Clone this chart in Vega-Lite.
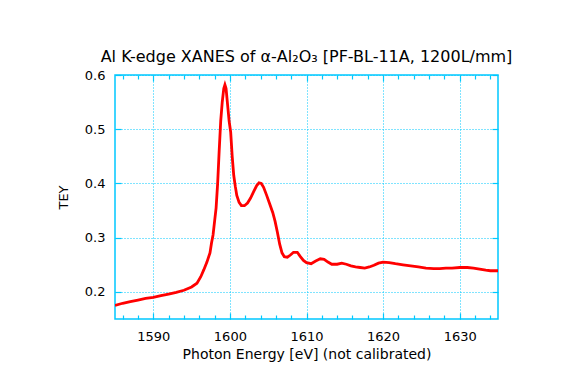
{
  "$schema": "https://vega.github.io/schema/vega-lite/v6.json",
  "autosize": {"type": "none"},
  "width": 383,
  "height": 244,
  "padding": {"left": 115, "top": 75, "right": 77, "bottom": 49},
  "background": "white",
  "title": {"text": "Al K-edge XANES of α-Al₂O₃ [PF-BL-11A, 1200L/mm]", "font": "DejaVu Sans", "fontSize": 16, "fontWeight": "normal", "color": "black", "anchor": "middle", "frame": "group", "offset": 4},
  "config": {
    "view": {"stroke": "#00c8ff", "strokeWidth": 1.5},
    "axis": {"domain": false, "labelFont": "DejaVu Sans", "labelFontSize": 13, "labelColor": "black", "titleFont": "DejaVu Sans", "titleFontSize": 13, "titleFontWeight": "normal", "titleColor": "black", "tickColor": "#00c8ff", "tickWidth": 1.2, "gridColor": "#00c8ff", "gridDash": [1, 2], "gridWidth": 1, "gridOpacity": 1}
  },
  "data": {"values": [
    {"e": 1585.0, "tey": 0.175}, {"e": 1586.0, "tey": 0.179}, {"e": 1587.0, "tey": 0.182}, {"e": 1588.0, "tey": 0.185},
    {"e": 1589.0, "tey": 0.188}, {"e": 1590.0, "tey": 0.190}, {"e": 1591.0, "tey": 0.193}, {"e": 1592.0, "tey": 0.196},
    {"e": 1593.0, "tey": 0.199}, {"e": 1594.0, "tey": 0.203}, {"e": 1595.0, "tey": 0.209}, {"e": 1595.7, "tey": 0.216},
    {"e": 1596.2, "tey": 0.228}, {"e": 1596.6, "tey": 0.241}, {"e": 1597.0, "tey": 0.255}, {"e": 1597.4, "tey": 0.272},
    {"e": 1597.6, "tey": 0.29}, {"e": 1597.8, "tey": 0.305}, {"e": 1598.0, "tey": 0.33}, {"e": 1598.2, "tey": 0.355},
    {"e": 1598.4, "tey": 0.40}, {"e": 1598.6, "tey": 0.46}, {"e": 1598.8, "tey": 0.515}, {"e": 1599.0, "tey": 0.55},
    {"e": 1599.2, "tey": 0.575}, {"e": 1599.35, "tey": 0.582}, {"e": 1599.5, "tey": 0.575}, {"e": 1599.7, "tey": 0.545},
    {"e": 1599.9, "tey": 0.515}, {"e": 1600.1, "tey": 0.495}, {"e": 1600.3, "tey": 0.45}, {"e": 1600.5, "tey": 0.415},
    {"e": 1600.7, "tey": 0.395}, {"e": 1600.9, "tey": 0.378}, {"e": 1601.2, "tey": 0.365}, {"e": 1601.5, "tey": 0.359},
    {"e": 1601.9, "tey": 0.359}, {"e": 1602.3, "tey": 0.364}, {"e": 1602.7, "tey": 0.373}, {"e": 1603.1, "tey": 0.385},
    {"e": 1603.5, "tey": 0.396}, {"e": 1603.8, "tey": 0.401}, {"e": 1604.1, "tey": 0.400}, {"e": 1604.4, "tey": 0.393},
    {"e": 1604.8, "tey": 0.378}, {"e": 1605.2, "tey": 0.362}, {"e": 1605.6, "tey": 0.346}, {"e": 1605.9, "tey": 0.33},
    {"e": 1606.2, "tey": 0.31}, {"e": 1606.5, "tey": 0.288}, {"e": 1606.8, "tey": 0.272}, {"e": 1607.1, "tey": 0.265},
    {"e": 1607.5, "tey": 0.264}, {"e": 1607.9, "tey": 0.268}, {"e": 1608.3, "tey": 0.273}, {"e": 1608.8, "tey": 0.273},
    {"e": 1609.2, "tey": 0.265}, {"e": 1609.6, "tey": 0.258}, {"e": 1610.0, "tey": 0.254}, {"e": 1610.6, "tey": 0.252},
    {"e": 1611.2, "tey": 0.257}, {"e": 1611.8, "tey": 0.261}, {"e": 1612.3, "tey": 0.260}, {"e": 1612.8, "tey": 0.255},
    {"e": 1613.3, "tey": 0.251}, {"e": 1614.0, "tey": 0.251}, {"e": 1614.6, "tey": 0.253}, {"e": 1615.2, "tey": 0.251},
    {"e": 1615.8, "tey": 0.248}, {"e": 1616.4, "tey": 0.246}, {"e": 1617.0, "tey": 0.245}, {"e": 1617.6, "tey": 0.244},
    {"e": 1618.2, "tey": 0.246}, {"e": 1618.8, "tey": 0.249}, {"e": 1619.4, "tey": 0.253}, {"e": 1620.0, "tey": 0.255},
    {"e": 1620.8, "tey": 0.254}, {"e": 1621.6, "tey": 0.252}, {"e": 1622.6, "tey": 0.250}, {"e": 1623.6, "tey": 0.248},
    {"e": 1624.6, "tey": 0.246}, {"e": 1625.6, "tey": 0.244}, {"e": 1626.6, "tey": 0.243}, {"e": 1627.4, "tey": 0.243},
    {"e": 1628.2, "tey": 0.244}, {"e": 1629.0, "tey": 0.244}, {"e": 1630.0, "tey": 0.245}, {"e": 1631.0, "tey": 0.245},
    {"e": 1631.8, "tey": 0.244}, {"e": 1632.6, "tey": 0.242}, {"e": 1633.4, "tey": 0.240}, {"e": 1634.0, "tey": 0.239},
    {"e": 1635.0, "tey": 0.239}
  ]},
  "resolve": {"axis": {"x": "independent", "y": "independent"}},
  "layer": [
    {
      "mark": {"type": "line", "color": "red", "strokeWidth": 2.8, "clip": true},
      "encoding": {
        "x": {"field": "e", "type": "quantitative", "scale": {"domain": [1585, 1635], "nice": false, "zero": false},
              "axis": {"orient": "bottom", "values": [1590, 1600, 1610, 1620, 1630], "format": "d", "ticks": false, "tickSize": 0, "labelPadding": 11, "grid": true, "title": "Photon Energy [eV] (not calibrated)", "titleFontSize": 14, "titlePadding": 4}},
        "y": {"field": "tey", "type": "quantitative", "scale": {"domain": [0.15, 0.6], "nice": false, "zero": false},
              "axis": {"orient": "left", "values": [0.2, 0.3, 0.4, 0.5, 0.6], "format": ".1f", "ticks": false, "tickSize": 0, "labelPadding": 10, "grid": true, "title": "TEY", "titlePadding": 14}}
      }
    },
    {
      "mark": {"type": "line", "opacity": 0},
      "encoding": {
        "x": {"field": "e", "type": "quantitative", "scale": {"domain": [1585, 1635], "nice": false, "zero": false},
              "axis": {"orient": "bottom", "offset": -6, "values": [1590, 1600, 1610, 1620, 1630], "tickSize": 6, "labels": false, "grid": false, "title": null}},
        "y": {"field": "tey", "type": "quantitative", "scale": {"domain": [0.15, 0.6], "nice": false, "zero": false},
              "axis": {"orient": "left", "offset": -6, "values": [0.2, 0.3, 0.4, 0.5, 0.6], "tickSize": 6, "labels": false, "grid": false, "title": null}}
      }
    },
    {
      "mark": {"type": "line", "opacity": 0},
      "encoding": {
        "x": {"field": "e", "type": "quantitative", "scale": {"domain": [1585, 1635], "nice": false, "zero": false},
              "axis": {"orient": "bottom", "offset": -4, "values": [1586, 1588, 1592, 1594, 1596, 1598, 1602, 1604, 1606, 1608, 1612, 1614, 1616, 1618, 1622, 1624, 1626, 1628, 1632, 1634], "tickSize": 4, "labels": false, "grid": false, "title": null}},
        "y": {"field": "tey", "type": "quantitative", "scale": {"domain": [0.15, 0.6], "nice": false, "zero": false},
              "axis": {"orient": "right", "offset": -6, "values": [0.2, 0.3, 0.4, 0.5, 0.6], "tickSize": 6, "labels": false, "grid": false, "title": null}}
      }
    },
    {
      "mark": {"type": "line", "opacity": 0},
      "encoding": {
        "x": {"field": "e", "type": "quantitative", "scale": {"domain": [1585, 1635], "nice": false, "zero": false},
              "axis": {"orient": "top", "offset": -6, "values": [1590, 1600, 1610, 1620, 1630], "tickSize": 6, "labels": false, "grid": false, "title": null}},
        "y": {"field": "tey", "type": "quantitative", "scale": {"domain": [0.15, 0.6], "nice": false, "zero": false}, "axis": null}
      }
    },
    {
      "mark": {"type": "line", "opacity": 0},
      "encoding": {
        "x": {"field": "e", "type": "quantitative", "scale": {"domain": [1585, 1635], "nice": false, "zero": false},
              "axis": {"orient": "top", "offset": -4, "values": [1586, 1588, 1592, 1594, 1596, 1598, 1602, 1604, 1606, 1608, 1612, 1614, 1616, 1618, 1622, 1624, 1626, 1628, 1632, 1634], "tickSize": 4, "labels": false, "grid": false, "title": null}},
        "y": {"field": "tey", "type": "quantitative", "scale": {"domain": [0.15, 0.6], "nice": false, "zero": false}, "axis": null}
      }
    }
  ]
}
